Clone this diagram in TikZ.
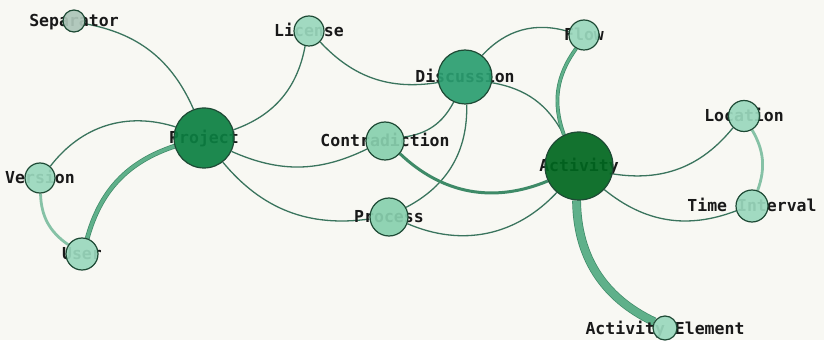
\documentclass[tikz,border=0pt]{standalone}
\usepackage{fontspec}
\newfontfamily\lblfont{DejaVu Sans Mono}
\pgfdeclarelayer{bglayer}
\pgfdeclarelayer{edges}
\pgfdeclarelayer{labels}
\pgfsetlayers{bglayer,edges,labels,main}
\definecolor{bg}{HTML}{F8F8F3}
\definecolor{edgedark}{HTML}{3A745D}
\definecolor{thickfill}{HTML}{5FB08A}
\definecolor{thickline}{HTML}{3F8A68}
\definecolor{midedge}{HTML}{3E8A67}
\definecolor{lightfill}{HTML}{86C2A6}
\definecolor{nodeline}{HTML}{1E4A35}
\definecolor{smallfill}{HTML}{9AD8BD}
\definecolor{sepfill}{HTML}{ADC6B9}
\definecolor{midfill}{HTML}{88D0AE}
\definecolor{discfill}{HTML}{2A9E70}
\definecolor{projfill}{HTML}{0B8042}
\definecolor{actfill}{HTML}{00671F}
\begin{document}
\begin{tikzpicture}[x=1pt,y=1pt,
  vert/.style={circle, draw=nodeline, line width=1.2pt, inner sep=0pt, fill opacity=0.92, minimum size=#1},
  lbl/.style={font=\lblfont\bfseries\fontsize{16.5}{16.5}\selectfont, text=black!90, anchor=base, inner sep=0pt},
  thinedge/.style={draw=edgedark, line width=1.3pt},
  thickedge/.style={draw=thickline, line width=0.7pt, double=thickfill, double distance=#1},
  solidedge/.style={draw=midedge, line width=#1},
  lightedge/.style={draw=lightfill, line width=#1}
]
\begin{pgfonlayer}{bglayer}
\fill[bg] (0,0) rectangle (824,340);
\end{pgfonlayer}
\useasboundingbox (0,0) rectangle (824,340);

% vertices
\node[vert=22pt, fill=sepfill]   (Separator)     at (74,319)  {};
\node[vert=30pt, fill=smallfill] (License)       at (309,309) {};
\node[vert=60pt, fill=projfill]  (Project)       at (204,202) {};
\node[vert=54pt, fill=discfill]  (Discussion)    at (465,263) {};
\node[vert=30pt, fill=smallfill] (Flow)          at (584,305) {};
\node[vert=31pt, fill=smallfill] (Location)      at (744,224) {};
\node[vert=38pt, fill=midfill]   (Contradiction) at (385,199) {};
\node[vert=68pt, fill=actfill]   (Activity)      at (579,174) {};
\node[vert=30pt, fill=smallfill] (Version)       at (40,162)  {};
\node[vert=32pt, fill=smallfill] (TimeInterval)  at (752,134) {};
\node[vert=38pt, fill=midfill]   (Process)       at (389,123) {};
\node[vert=32pt, fill=smallfill] (User)          at (82,86)   {};
\node[vert=24pt, fill=smallfill] (ActElem)       at (665,12)  {};

% labels
\begin{pgfonlayer}{labels}
\node[lbl] (tSeparator)     at ([yshift=-6pt]Separator.center)     {Separator};
\node[lbl] (tLicense)       at ([yshift=-6pt]License.center)       {License};
\node[lbl] (tProject)       at ([yshift=-6pt]Project.center)       {Project};
\node[lbl] (tDiscussion)    at ([yshift=-6pt]Discussion.center)    {Discussion};
\node[lbl] (tFlow)          at ([yshift=-6pt]Flow.center)          {Flow};
\node[lbl] (tLocation)      at ([yshift=-6pt]Location.center)      {Location};
\node[lbl] (tContradiction) at ([yshift=-6pt]Contradiction.center) {Contradiction};
\node[lbl] (tActivity)      at ([yshift=-6pt]Activity.center)      {Activity};
\node[lbl] (tVersion)       at ([yshift=-6pt]Version.center)       {Version};
\node[lbl] (tTimeInterval)  at ([yshift=-6pt]TimeInterval.center)  {Time Interval};
\node[lbl] (tProcess)       at ([yshift=-6pt]Process.center)       {Process};
\node[lbl] (tUser)          at ([yshift=-6pt]User.center)          {User};
\node[lbl] (tActElem)       at ([yshift=-6pt]ActElem.center)       {Activity Element};
\end{pgfonlayer}

% edges
\begin{pgfonlayer}{edges}
\draw[thinedge] (Separator) to[bend left=28] (Project);
\draw[thinedge] (Project) to[bend right=30] (License);
\draw[thinedge] (License) to[bend right=28] (Discussion);
\draw[thinedge] (Discussion) to[bend left=32] (Flow);
\draw[thinedge] (Discussion) to[bend left=26] (Activity);
\draw[thinedge] (Discussion) to[bend left=27] (Contradiction);
\draw[thinedge] (Discussion) to[bend left=32] (Process);
\draw[thinedge] (Project) to[bend right=35] (Version);
\draw[thickedge=3.4pt] (Project) to[bend right=28] (User);
\draw[lightedge=2.8pt] (Version) to[bend right=27] (User);
\draw[thinedge] (Project) to[bend right=25] (Contradiction);
\draw[thinedge] (Project) to[bend right=29] (Process);
\draw[solidedge=3pt] (Contradiction) to[bend right=33] (Activity);
\draw[thinedge] (Process) to[bend right=35] (Activity);
\draw[thickedge=2.4pt] (Activity) to[bend left=28] (Flow);
\draw[thinedge] (Activity) to[bend right=30] (Location);
\draw[thinedge] (Activity) to[bend right=30] (TimeInterval);
\draw[lightedge=2.8pt] (Location) to[bend left=25] (TimeInterval);
\draw[thickedge=7.4pt] (Activity) to[bend right=32] (ActElem);
\end{pgfonlayer}
\end{tikzpicture}
\end{document}
